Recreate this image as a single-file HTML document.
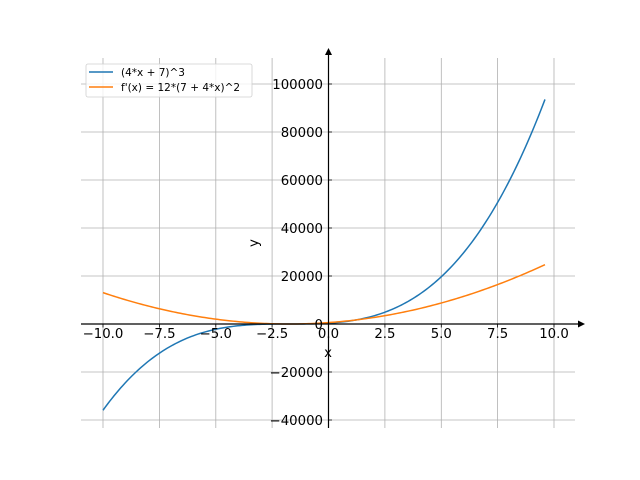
<!DOCTYPE html>
<html><head><meta charset="utf-8"><style>
html,body{margin:0;padding:0;background:#fff;}
svg{display:block;font-family:"DejaVu Sans","Liberation Sans",sans-serif;}
</style></head><body>
<svg id="s" width="640" height="480" viewBox="0 0 640 480" xmlns="http://www.w3.org/2000/svg">
<g stroke="#b0b0b0" stroke-width="0.8" fill="none">
<line x1="103" y1="58" x2="103" y2="428"/><line x1="159.4" y1="58" x2="159.4" y2="428"/>
<line x1="215.8" y1="58" x2="215.8" y2="428"/><line x1="272.1" y1="58" x2="272.1" y2="428"/>
<line x1="328.5" y1="58" x2="328.5" y2="428"/><line x1="384.9" y1="58" x2="384.9" y2="428"/>
<line x1="441.3" y1="58" x2="441.3" y2="428"/><line x1="497.6" y1="58" x2="497.6" y2="428"/>
<line x1="554" y1="58" x2="554" y2="428"/>
<line x1="81" y1="84" x2="575" y2="84"/><line x1="81" y1="132" x2="575" y2="132"/>
<line x1="81" y1="180" x2="575" y2="180"/><line x1="81" y1="228" x2="575" y2="228"/>
<line x1="81" y1="276" x2="575" y2="276"/><line x1="81" y1="324" x2="575" y2="324"/>
<line x1="81" y1="372" x2="575" y2="372"/><line x1="81" y1="420" x2="575" y2="420"/>
</g>
<path id="b" fill="none" stroke="#1f77b4" stroke-width="1.5"/>
<path id="o" fill="none" stroke="#ff7f0e" stroke-width="1.5"/>
<g stroke="#000" stroke-width="1.2">
<line x1="81" y1="324" x2="580" y2="324"/>
<line x1="328.5" y1="52" x2="328.5" y2="428"/>
</g>
<polygon points="578,320.5 585,324 578,327.5" fill="#000"/>
<polygon points="325,55 328.5,48 332,55" fill="#000"/>
<g stroke="#000" stroke-width="0.8">
<line x1="103" y1="324" x2="103" y2="327.5"/><line x1="159.4" y1="324" x2="159.4" y2="327.5"/>
<line x1="215.8" y1="324" x2="215.8" y2="327.5"/><line x1="272.1" y1="324" x2="272.1" y2="327.5"/>
<line x1="328.5" y1="324" x2="328.5" y2="327.5"/><line x1="384.9" y1="324" x2="384.9" y2="327.5"/>
<line x1="441.3" y1="324" x2="441.3" y2="327.5"/><line x1="497.6" y1="324" x2="497.6" y2="327.5"/>
<line x1="554" y1="324" x2="554" y2="327.5"/>
<line x1="328.5" y1="84" x2="332" y2="84"/><line x1="328.5" y1="132" x2="332" y2="132"/>
<line x1="328.5" y1="180" x2="332" y2="180"/><line x1="328.5" y1="228" x2="332" y2="228"/>
<line x1="328.5" y1="276" x2="332" y2="276"/><line x1="328.5" y1="372" x2="332" y2="372"/>
<line x1="328.5" y1="420" x2="332" y2="420"/>
</g>
<g font-size="13.3" fill="#000" text-anchor="middle">
<text x="103" y="338">−10.0</text><text x="159.4" y="338">−7.5</text>
<text x="215.8" y="338">−5.0</text><text x="272.1" y="338">−2.5</text>
<text x="328.5" y="338">0.0</text><text x="384.9" y="338">2.5</text>
<text x="441.3" y="338">5.0</text><text x="497.6" y="338">7.5</text>
<text x="554" y="338">10.0</text>
<text x="328" y="357">x</text>
<text transform="translate(258,243) rotate(-90)">y</text>
</g>
<g font-size="13.3" fill="#000" text-anchor="end">
<text x="323" y="89">100000</text><text x="323" y="137">80000</text>
<text x="323" y="185">60000</text><text x="323" y="233">40000</text>
<text x="323" y="281">20000</text><text x="323" y="329">0</text>
<text x="323" y="377">−20000</text><text x="323" y="425">−40000</text>
</g>
<rect x="86" y="64" width="166" height="33" rx="2" fill="#fff" fill-opacity="0.8" stroke="#d0d0d0" stroke-width="0.8"/>
<line x1="89" y1="72" x2="113" y2="72" stroke="#1f77b4" stroke-width="1.5"/>
<line x1="89" y1="87" x2="113" y2="87" stroke="#ff7f0e" stroke-width="1.5"/>
<g font-size="10.5" fill="#000">
<text x="121" y="76">(4*x + 7)^3</text>
<text x="121" y="91">f'(x) = 12*(7 + 4*x)^2</text>
</g>
<script>
(function(){
var X=function(x){return 328.5+22.55*x}, Y=function(y){return 324-y*0.0024};
var b="",o="";
for(var i=0;i<=200;i++){var x=-10+19.6*i/200;
var f=Math.pow(4*x+7,3), g=12*Math.pow(7+4*x,2);
b+=(i?"L":"M")+X(x).toFixed(2)+","+Y(f).toFixed(2);
o+=(i?"L":"M")+X(x).toFixed(2)+","+Y(g).toFixed(2);}
document.getElementById("b").setAttribute("d",b);
document.getElementById("o").setAttribute("d",o);
})();
</script>
</svg>
</body></html>
